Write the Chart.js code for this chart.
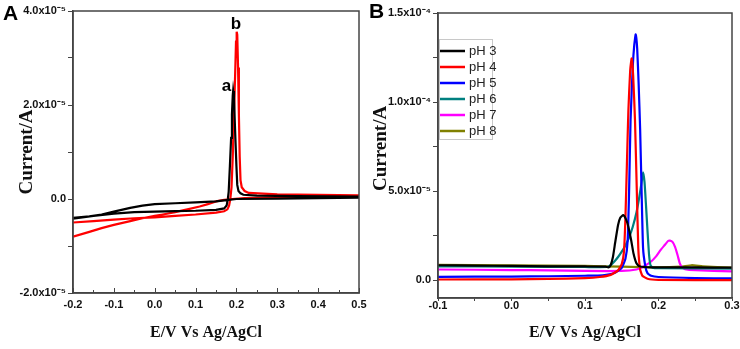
<!DOCTYPE html>
<html>
<head>
<meta charset="utf-8">
<script src="https://cdn.jsdelivr.net/npm/chart.js@4.4.1/dist/chart.umd.min.js"></script>
<style>
  html, body { margin: 0; padding: 0; background: #fff; }
  #wrap { position: relative; width: 740px; height: 349px; overflow: hidden; }
  .panel { position: absolute; top: 0; width: 370px; height: 349px; }
  .tag { position: absolute; font: bold 21px "Liberation Sans", Arial, sans-serif; color: #000; line-height: 24px; }
</style>
</head>
<body>
<div id="wrap">
  <div class="panel" style="left:0"><canvas id="cvA" width="370" height="349"></canvas></div>
  <div class="panel" style="left:370px"><canvas id="cvB" width="370" height="349"></canvas></div>
  <div class="tag" style="left:3px; top:1px">A</div>
  <div class="tag" style="left:369px; top:-1px">B</div>
</div>
<script>
// currents are in units of 1e-5 A, potentials in V

// panel A: cyclic voltammograms, forward scan then reverse scan
const eA_black_fwd = [-0.2, -0.15, -0.1, -0.05, 0.0, 0.05, 0.1, 0.15, 0.17, 0.176, 0.179, 0.181, 0.184, 0.187, 0.189, 0.191, 0.192, 0.194, 0.197, 0.2, 0.202, 0.205, 0.21, 0.217, 0.25, 0.35, 0.5];
const iA_black_fwd = [-0.42, -0.36, -0.31, -0.28, -0.27, -0.26, -0.25, -0.23, -0.2, -0.14, 0.0, 0.15, 0.7, 1.3, 1.8, 2.2, 2.3, 2.15, 1.4, 0.7, 0.3, 0.17, 0.12, 0.09, 0.07, 0.06, 0.05];
const eA_black_rev = [0.5, 0.4, 0.3, 0.2, 0.18, 0.15, 0.1, 0.05, 0.0, -0.03, -0.06, -0.1, -0.13, -0.16, -0.2];
const iA_black_rev = [0.03, 0.02, 0.01, 0.0, -0.02, -0.05, -0.07, -0.09, -0.11, -0.14, -0.19, -0.27, -0.33, -0.37, -0.40];

const eA_red_fwd = [-0.2, -0.15, -0.1, -0.05, 0.0, 0.05, 0.1, 0.15, 0.17, 0.178, 0.182, 0.185, 0.188, 0.191, 0.194, 0.197, 0.199, 0.2006, 0.202, 0.204, 0.206, 0.208, 0.21, 0.213, 0.22, 0.23, 0.3, 0.5];
const iA_red_fwd = [-0.50, -0.47, -0.44, -0.41, -0.39, -0.36, -0.33, -0.29, -0.26, -0.22, -0.14, 0.0, 0.25, 0.9, 1.8, 2.7, 3.35, 3.56, 3.5, 2.8, 1.8, 0.9, 0.4, 0.25, 0.17, 0.13, 0.1, 0.08];
const eA_red_rev = [0.5, 0.4, 0.3, 0.22, 0.19, 0.17, 0.15, 0.13, 0.11, 0.08, 0.05, 0.02, 0.0, -0.03, -0.06, -0.1, -0.13, -0.16, -0.2];
const iA_red_rev = [0.05, 0.04, 0.03, 0.02, 0.0, -0.02, -0.05, -0.11, -0.16, -0.22, -0.28, -0.33, -0.36, -0.41, -0.47, -0.55, -0.62, -0.70, -0.80];

const peakNames = ['a', 'b'];

// panel B: pH series
const phLabels = ['pH 3', 'pH 4', 'pH 5', 'pH 6', 'pH 7', 'pH 8'];
const eB_ph3 = [-0.1, -0.05, 0.0, 0.05, 0.1, 0.128, 0.132, 0.135, 0.138, 0.141, 0.145, 0.148, 0.152, 0.156, 0.159, 0.163, 0.166, 0.17, 0.174, 0.19, 0.25, 0.3];
const iB_ph3 = [0.84, 0.82, 0.8, 0.78, 0.77, 0.76, 0.72, 0.85, 1.3, 2.1, 3.1, 3.5, 3.65, 3.4, 3.0, 2.2, 1.5, 0.95, 0.78, 0.72, 0.72, 0.7];
const eB_ph4 = [-0.1, 0.0, 0.05, 0.1, 0.12, 0.135, 0.145, 0.15, 0.153, 0.155, 0.157, 0.159, 0.1615, 0.1635, 0.1655, 0.168, 0.1705, 0.1725, 0.175, 0.178, 0.185, 0.2, 0.3];
const iB_ph4 = [0.04, 0.05, 0.07, 0.12, 0.18, 0.3, 0.55, 0.9, 1.6, 3.5, 6.5, 9.5, 11.8, 12.45, 11.5, 9.0, 5.0, 1.8, 0.6, 0.25, 0.08, 0.02, 0.0];
const eB_ph5 = [-0.1, 0.0, 0.05, 0.1, 0.124, 0.14, 0.15, 0.155, 0.158, 0.16, 0.162, 0.165, 0.167, 0.169, 0.171, 0.173, 0.175, 0.177, 0.179, 0.182, 0.185, 0.19, 0.2, 0.25, 0.3];
const iB_ph5 = [0.19, 0.2, 0.22, 0.25, 0.27, 0.4, 0.7, 1.2, 2.2, 5.0, 9.0, 12.0, 13.2, 13.8, 13.0, 11.0, 8.5, 5.0, 1.8, 0.8, 0.4, 0.25, 0.18, 0.12, 0.1];
const eB_ph6 = [-0.1, 0.0, 0.1, 0.13, 0.135, 0.14, 0.145, 0.15, 0.155, 0.16, 0.165, 0.17, 0.174, 0.177, 0.179, 0.181, 0.183, 0.185, 0.187, 0.189, 0.192, 0.2, 0.3];
const iB_ph6 = [0.78, 0.76, 0.74, 0.74, 0.85, 1.05, 1.3, 1.6, 1.95, 2.4, 3.0, 3.8, 4.7, 5.5, 6.05, 5.5, 4.2, 2.8, 1.5, 0.85, 0.7, 0.67, 0.65];
const eB_ph7 = [-0.1, 0.0, 0.05, 0.1, 0.15, 0.17, 0.179, 0.19, 0.197, 0.203, 0.209, 0.213, 0.2156, 0.219, 0.2225, 0.226, 0.229, 0.232, 0.236, 0.25, 0.3];
const iB_ph7 = [0.6, 0.57, 0.55, 0.52, 0.52, 0.6, 0.75, 1.05, 1.35, 1.7, 2.0, 2.2, 2.22, 2.15, 1.87, 1.4, 0.94, 0.72, 0.62, 0.56, 0.5];
const eB_ph8 = [-0.1, 0.0, 0.1, 0.15, 0.2, 0.23, 0.245, 0.26, 0.3];
const iB_ph8 = [0.86, 0.84, 0.8, 0.76, 0.72, 0.76, 0.84, 0.78, 0.7];

const SANS = '"Liberation Sans", Arial, sans-serif';
const SERIF = '"Liberation Serif", "Times New Roman", serif';
const AXIS = '#444';

const SUP = { '-': '\u207B', '0': '\u2070', '1': '\u00B9', '2': '\u00B2', '3': '\u00B3', '4': '\u2074', '5': '\u2075', '6': '\u2076', '7': '\u2077', '8': '\u2078', '9': '\u2079' };

function sci(v) {
  if (Math.abs(v) < 1e-9) return '0.0';
  const a = v * 1e-5;
  const ex = Math.floor(Math.log10(Math.abs(a)) + 1e-9);
  const m = a / Math.pow(10, ex);
  return m.toFixed(1) + 'x10' + String(ex).split('').map(c => SUP[c]).join('');
}

function isMultiple(v, step) {
  return Math.abs(v / step - Math.round(v / step)) < 1e-6;
}

function pts(es, is) {
  return es.map((e, k) => ({ x: e, y: is[k] }));
}

const frame = {
  id: 'frame',
  afterDraw(chart) {
    const { ctx, chartArea: a } = chart;
    ctx.save();
    ctx.strokeStyle = AXIS;
    ctx.lineWidth = 1.5;
    ctx.strokeRect(a.left, a.top, a.right - a.left, a.bottom - a.top);
    ctx.restore();
  }
};

// panel A has its x tick marks pointing into the plot
const innerTicks = {
  id: 'innerTicks',
  afterDraw(chart) {
    const { ctx, chartArea: a, scales } = chart;
    ctx.save();
    ctx.strokeStyle = AXIS;
    ctx.lineWidth = 1;
    scales.x.ticks.forEach(t => {
      const px = Math.round(scales.x.getPixelForValue(t.value)) + 0.5;
      const len = isMultiple(t.value, 0.1) ? 5 : 3;
      ctx.beginPath();
      ctx.moveTo(px, a.bottom);
      ctx.lineTo(px, a.bottom - len);
      ctx.stroke();
    });
    ctx.restore();
  }
};

const peakTags = {
  id: 'peakTags',
  afterDatasetsDraw(chart) {
    const { ctx, scales } = chart;
    // tag sits above each peak maximum
    const spots = [[0.1757, 2.39], [0.199, 3.72]];
    ctx.save();
    ctx.font = 'bold 17px ' + SANS;
    ctx.fillStyle = '#000';
    ctx.textAlign = 'center';
    ctx.textBaseline = 'middle';
    peakNames.forEach((t, k) => {
      ctx.fillText(t, scales.x.getPixelForValue(spots[k][0]), scales.y.getPixelForValue(spots[k][1]));
    });
    ctx.restore();
  }
};

const boxLegend = {
  id: 'boxLegend',
  afterDatasetsDraw(chart) {
    const { ctx, chartArea } = chart;
    const sets = chart.data.datasets;
    const x0 = chartArea.left + 1, y0 = chartArea.top + 26, w = 53, rowH = 16;
    const h = (sets.length - 1) * rowH + 20;
    ctx.save();
    ctx.fillStyle = '#fff';
    ctx.fillRect(x0, y0, w, h);
    ctx.strokeStyle = '#c8c8c8';
    ctx.lineWidth = 1;
    ctx.strokeRect(x0 + 0.5, y0 + 0.5, w, h);
    ctx.font = '13px ' + SANS;
    ctx.textBaseline = 'middle';
    sets.forEach((ds, k) => {
      const y = y0 + 12 + k * rowH;
      ctx.strokeStyle = ds.borderColor;
      ctx.lineWidth = 2.5;
      ctx.beginPath();
      ctx.moveTo(x0 + 1, y);
      ctx.lineTo(x0 + 26, y);
      ctx.stroke();
      ctx.fillStyle = '#222';
      ctx.fillText(ds.label, x0 + 30, y);
    });
    ctx.restore();
  }
};

function xAxis(min, max, tickLen, tickColor, pad, height, titleText) {
  return {
    type: 'linear', min: min, max: max,
    afterFit: s => { s.height = height; },
    border: { display: true, color: AXIS, width: 1.5 },
    grid: { drawOnChartArea: false, drawTicks: true, tickLength: tickLen, tickColor: tickColor, tickWidth: 1 },
    ticks: {
      stepSize: 0.05, autoSkip: false, maxRotation: 0, padding: pad, color: '#111',
      font: { family: SANS, size: 11, weight: 'bold' },
      callback: v => isMultiple(v, 0.1) ? (Math.abs(v) < 1e-9 ? '0.0' : v.toFixed(1)) : ''
    },
    title: { display: true, text: titleText, color: '#111', font: { family: SERIF, size: 16, weight: 'bold' }, padding: { top: 0, bottom: 7 } }
  };
}

function yAxis(min, max, step, major, width, titlePad, titleText) {
  return {
    type: 'linear', min: min, max: max,
    afterFit: s => { s.width = width; },
    border: { display: true, color: AXIS, width: 1.5 },
    grid: { drawOnChartArea: false, drawTicks: true, tickLength: 5, tickColor: AXIS, tickWidth: 1 },
    ticks: {
      stepSize: step, includeBounds: false, autoSkip: false, padding: 2, color: '#111',
      font: { family: SANS, size: 11, weight: 'bold' },
      callback: v => isMultiple(v, major) ? sci(v) : ''
    },
    title: { display: true, text: titleText, color: '#111', font: { family: SERIF, size: 19, weight: 'bold' }, padding: { top: titlePad, bottom: 0 } }
  };
}

const common = {
  responsive: false,
  animation: false,
  events: [],
  elements: { point: { radius: 0 }, line: { tension: 0.15, borderWidth: 2.2 } },
  plugins: { legend: { display: false }, tooltip: { enabled: false } }
};

new Chart(document.getElementById('cvA').getContext('2d'), {
  type: 'line',
  data: {
    datasets: [
      { label: 'a', data: pts(eA_black_fwd.concat(eA_black_rev), iA_black_fwd.concat(iA_black_rev)), borderColor: '#000000', tension: 0 },
      { label: 'b', data: pts(eA_red_fwd.concat(eA_red_rev), iA_red_fwd.concat(iA_red_rev)), borderColor: '#ff0000', tension: 0 }
    ]
  },
  options: Object.assign({}, common, {
    layout: { padding: { top: 11, right: 11, left: 0, bottom: 0 } },
    scales: {
      // trailing / leading blanks nudge the titles off-centre as in the original figure
      x: xAxis(-0.2, 0.5, 4, 'rgba(0,0,0,0)', 1, 56, 'E/V Vs Ag/AgCl     '),
      y: yAxis(-2, 4, 1, 2, 73, 16, 'Current/A')
    }
  }),
  plugins: [frame, innerTicks, peakTags]
});

const phColors = ['#000000', '#ff0000', '#0000ff', '#008080', '#ff00ff', '#808000'];
const phE = [eB_ph3, eB_ph4, eB_ph5, eB_ph6, eB_ph7, eB_ph8];
const phI = [iB_ph3, iB_ph4, iB_ph5, iB_ph6, iB_ph7, iB_ph8];

new Chart(document.getElementById('cvB').getContext('2d'), {
  type: 'line',
  data: {
    datasets: phLabels.map((lab, k) => ({ label: lab, data: pts(phE[k], phI[k]), borderColor: phColors[k] }))
  },
  options: Object.assign({}, common, {
    layout: { padding: { top: 13, right: 8, left: 0, bottom: 0 } },
    scales: {
      x: xAxis(-0.1, 0.3, 3, AXIS, -2, 51, 'E/V Vs Ag/AgCl'),
      y: yAxis(-1, 15, 2.5, 5, 68, 0, '   Current/A')
    }
  }),
  plugins: [frame, boxLegend]
});
</script>
</body>
</html>
